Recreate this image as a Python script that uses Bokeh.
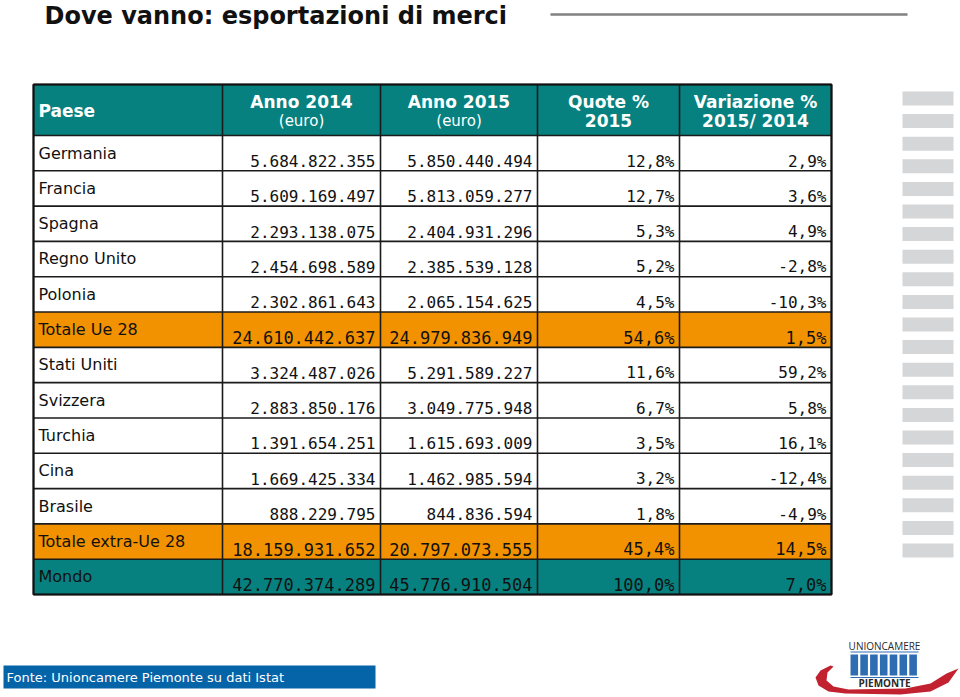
from bokeh.plotting import figure
from bokeh.models import Range1d, ColumnDataSource
from bokeh.core.properties import value
from bokeh.embed import file_html
from bokeh.resources import INLINE

# ---------------- data ----------------
title_text = "Dove vanno: esportazioni di merci"
paesi = ["Germania", "Francia", "Spagna", "Regno Unito", "Polonia", "Totale Ue 28",
         "Stati Uniti", "Svizzera", "Turchia", "Cina", "Brasile",
         "Totale extra-Ue 28", "Mondo"]
anno_2014 = [5684822355, 5609169497, 2293138075, 2454698589, 2302861643, 24610442637,
             3324487026, 2883850176, 1391654251, 1669425334, 888229795,
             18159931652, 42770374289]
anno_2015 = [5850440494, 5813059277, 2404931296, 2385539128, 2065154625, 24979836949,
             5291589227, 3049775948, 1615693009, 1462985594, 844836594,
             20797073555, 45776910504]
quote_2015 = [12.8, 12.7, 5.3, 5.2, 4.5, 54.6, 11.6, 6.7, 3.5, 3.2, 1.8, 45.4, 100.0]
variazione = [2.9, 3.6, 4.9, -2.8, -10.3, 1.5, 59.2, 5.8, 16.1, -12.4, -4.9, 14.5, 7.0]
row_kind = ["paese"] * 5 + ["totale"] + ["paese"] * 5 + ["totale", "mondo"]
header_line1 = ["Paese", "Anno 2014", "Anno 2015", "Quote %", "Variazione %"]
header_line2 = ["", "(euro)", "(euro)", "2015", "2015/ 2014"]
fonte = "Fonte: Unioncamere Piemonte su dati Istat"
logo_top = "UNIONCAMERE"
logo_bottom = "PIEMONTE"

# ---------------- helpers ----------------
def fmt_int(v):
    return f"{v:,}".replace(",", ".")

def fmt_pct(v):
    return f"{v:.1f}".replace(".", ",") + "%"

TEAL = "#06817F"
ORANGE = "#F39200"
fill_for = {"paese": "#FFFFFF", "totale": ORANGE, "mondo": TEAL}

# ---------------- layout (page coordinates) ----------------
W, H = 960, 697
col_edges = [33, 222, 380, 537, 679, 831]
head_top, head_bot, table_bot = 84, 135, 594
n = len(paesi)
row_h = (table_bot - head_bot) / n
row_tops = [head_bot + i * row_h for i in range(n)]

p = figure(width=W, height=H, x_range=Range1d(0, W), y_range=Range1d(H, 0),
           output_backend="svg", toolbar_location=None, min_border=0,
           x_axis_type=None, y_axis_type=None)
p.grid.visible = False
p.outline_line_color = None
p.background_fill_color = "white"
p.border_fill_color = "white"

# title + rule
p.text(x=[44], y=[15], text=[title_text], text_font=value("DejaVu Sans"),
       text_font_style="bold", text_font_size="24px", text_baseline="middle",
       text_color="#111111")
p.segment(x0=[550], y0=[14], x1=[907], y1=[14], line_color="#808080", line_width=2.5)

# header band and row fills
p.quad(left=[col_edges[0]], right=[col_edges[-1]], top=[head_top], bottom=[head_bot],
       fill_color=TEAL, line_color=None)
rows = ColumnDataSource(dict(
    left=[col_edges[0]] * n, right=[col_edges[-1]] * n,
    top=row_tops, bottom=[t + row_h for t in row_tops],
    fill=[fill_for[k] for k in row_kind]))
p.quad(left="left", right="right", top="top", bottom="bottom", fill_color="fill",
       line_color=None, source=rows)

# grid lines
hy = [head_top, head_bot] + [t + row_h for t in row_tops]
p.segment(x0=[col_edges[0]] * len(hy), x1=[col_edges[-1]] * len(hy), y0=hy, y1=hy,
          line_color="#1b1b1b", line_width=1.6)
p.segment(x0=col_edges, x1=col_edges, y0=[head_top] * len(col_edges),
          y1=[table_bot] * len(col_edges), line_color="#1b1b1b", line_width=1.6)
p.quad(left=[col_edges[0]], right=[col_edges[-1]], top=[head_top], bottom=[table_bot],
       fill_color=None, line_color="#111111", line_width=2)

# header text
p.text(x=[col_edges[0] + 5], y=[110], text=[header_line1[0]],
       text_font=value("DejaVu Sans"), text_font_style="bold", text_font_size="17px",
       text_baseline="middle", text_color="white")
centers = [(col_edges[i] + col_edges[i + 1]) / 2 for i in range(1, 5)]
p.text(x=centers, y=[101] * 4, text=header_line1[1:], text_font=value("DejaVu Sans"),
       text_font_style="bold", text_font_size="17px", text_baseline="middle",
       text_align="center", text_color="white")
p.text(x=centers[:2], y=[120] * 2, text=header_line2[1:3], text_font=value("DejaVu Sans"),
       text_font_size="15px", text_baseline="middle", text_align="center", text_color="white")
p.text(x=centers[2:], y=[120] * 2, text=header_line2[3:], text_font=value("DejaVu Sans"),
       text_font_style="bold", text_font_size="17px", text_baseline="middle",
       text_align="center", text_color="white")

# row labels
p.text(x=[col_edges[0] + 5] * n, y=[t + 17.5 for t in row_tops], text=paesi,
       text_font=value("DejaVu Sans"), text_font_size="16px", text_baseline="middle",
       text_color="#111111")

# numbers
cols_text = [[fmt_int(v) for v in anno_2014], [fmt_int(v) for v in anno_2015],
             [fmt_pct(v) for v in quote_2015], [fmt_pct(v) for v in variazione]]
for ci, texts in enumerate(cols_text):
    xr = col_edges[ci + 2] - 5
    for kind_big in (False, True):
        idx = [i for i in range(n) if (row_kind[i] != "paese") == kind_big]
        p.text(x=[xr] * len(idx), y=[row_tops[i] + 25.5 for i in idx],
               text=[texts[i] for i in idx], text_font=value("DejaVu Sans Mono"),
               text_font_size="17px" if kind_big else "16px", text_align="right",
               text_baseline="middle", text_color="#111111")

# decorative grey bars at right
bar_tops = [91 + i * 22.6 for i in range(21)]
p.quad(left=[902] * 21, right=[953] * 21, top=bar_tops, bottom=[t + 14 for t in bar_tops],
       fill_color="#D5D6D8", line_color=None)

# source box
p.quad(left=[3], right=[375], top=[665], bottom=[688], fill_color="#0563A8", line_color=None)
p.text(x=[6], y=[676.5], text=[fonte], text_font=value("DejaVu Sans"),
       text_font_size="13px", text_baseline="middle", text_color="white")

# logo
sw_x = [830, 820, 815, 818, 828, 845, 900, 930, 948, 958,
        946, 930, 905, 848, 833, 826, 827, 833]
sw_y = [665, 670, 677, 685, 691, 693, 694, 691, 682, 668,
        673, 683, 688, 689, 686, 680, 672, 666]
p.patch(sw_x, sw_y, fill_color="#C2212F", line_color=None)
p.text(x=[884], y=[645], text=[logo_top], text_font=value("Open Sans"),
       text_font_size="10px", text_align="center", text_baseline="middle",
       text_color="#2a2a2a")
p.segment(x0=[850, 850], x1=[918, 918], y0=[651.5, 677], y1=[651.5, 677],
          line_color="#2E6DB2", line_width=1)
bl = [850 + i * 9.8 for i in range(7)]
p.quad(left=bl, right=[b + 7.6 for b in bl], top=[654] * 7, bottom=[675] * 7,
       fill_color="#2E6DB2", line_color=None)
p.text(x=[884], y=[682.5], text=[logo_bottom], text_font=value("Open Sans"),
       text_font_style="bold", text_font_size="10px", text_align="center",
       text_baseline="middle", text_color="#2a2a2a")

open("out.html", "w").write(file_html(p, INLINE))
